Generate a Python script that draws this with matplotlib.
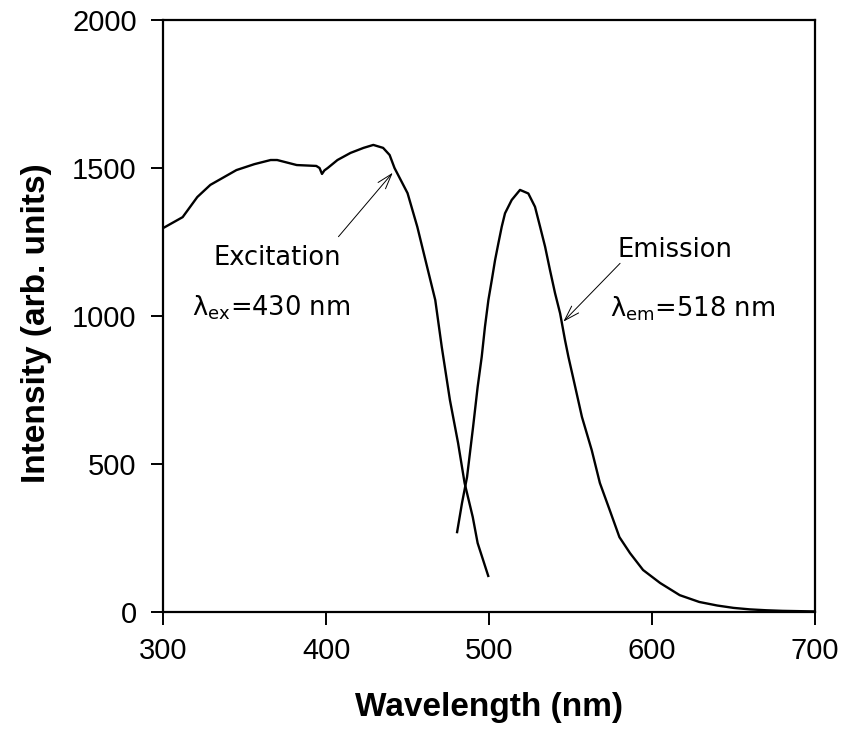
import matplotlib
matplotlib.use('Agg')
import matplotlib.pyplot as plt

# excitation spectrum
ex_wl = [300, 312, 321, 329, 345, 356, 366, 370, 382, 394, 396, 397.5, 399, 401, 407, 415, 423, 429,
         435, 439, 442, 450, 456, 462, 467, 471, 476, 481, 485, 490, 493, 499.5]
ex_int = [1297, 1334, 1402, 1443, 1493, 1513, 1527, 1527, 1510, 1507, 1500, 1480, 1492, 1500, 1527, 1551,
          1568, 1578, 1568, 1544, 1500, 1415, 1301, 1166, 1054, 895, 716, 571, 436, 321, 233, 122]

# emission spectrum
em_wl = [480.4, 483.4, 486.5, 490.2, 493, 495.5, 497.5, 499.6, 501.7, 503.7, 505.7, 507.8, 509.8, 513.9,
         519, 524.1, 528.2, 531.3, 534.4, 537.4, 540.5, 543.6, 546.6, 548.7, 551.5, 557, 563, 568,
         574, 580, 586.5, 594.5, 605, 617, 629, 640, 650, 660, 670, 680, 690, 700]
em_int = [270, 368, 456, 625, 760, 862, 964, 1054, 1122, 1189, 1245, 1302, 1347, 1392,
          1426, 1414, 1369, 1302, 1234, 1155, 1077, 1009, 919, 862, 794, 659, 547, 436,
          345, 253, 199, 142, 98, 57, 34, 22, 14, 9, 6, 4, 3, 2]

x_ticks = [300, 400, 500, 600, 700]
y_ticks = [0, 500, 1000, 1500, 2000]

plt.rcParams['mathtext.fontset'] = 'dejavusans'

fig = plt.figure(figsize=(8.45, 7.3), dpi=100)
ax = fig.add_axes([0.193, 0.1616, 0.7715, 0.811])

ax.plot(ex_wl, ex_int, color='black', lw=1.7)
ax.plot(em_wl, em_int, color='black', lw=1.7)

ax.set_xlim(300, 700)
ax.set_ylim(0, 2000)
ax.set_xticks(x_ticks)
ax.set_yticks(y_ticks)
for s in ax.spines.values():
    s.set_linewidth(1.6)
ax.tick_params(direction='out', length=9, width=1.4, labelsize=21)
ax.tick_params(axis='x', pad=9)
ax.tick_params(axis='y', pad=10)
for lab in ax.get_xticklabels() + ax.get_yticklabels():
    lab.set_fontfamily('Liberation Sans')

ax.set_xlabel('Wavelength (nm)', fontsize=24, fontweight='bold', family='Liberation Sans')
ax.set_ylabel('Intensity (arb. units)', fontsize=24, fontweight='bold', family='Liberation Sans')
ax.xaxis.set_label_coords(0.5, -0.135)
ax.yaxis.set_label_coords(-0.17, 0.488)

arrow = dict(arrowstyle='->,head_length=1.1,head_width=0.35', color='black', lw=0.7,
             shrinkA=0, shrinkB=0, mutation_scale=10)
ax.annotate('', xy=(440.9, 1484), xytext=(407.6, 1268), arrowprops=arrow)
ax.annotate('', xy=(545.6, 981), xytext=(580.4, 1178), arrowprops=arrow)

fs = 18.5
ax.text(330.7, 1172, 'Excitation', fontsize=fs, family='DejaVu Sans', va='baseline', ha='left')
ax.text(318, 1003, 'λ$_{\\mathrm{ex}}$=430 nm', fontsize=fs, family='DejaVu Sans', va='baseline', ha='left')
ax.text(579, 1199, 'Emission', fontsize=fs, family='DejaVu Sans', va='baseline', ha='left')
ax.text(574.2, 997, 'λ$_{\\mathrm{em}}$=518 nm', fontsize=fs, family='DejaVu Sans', va='baseline', ha='left')

fig.savefig('out.png', dpi=100)
